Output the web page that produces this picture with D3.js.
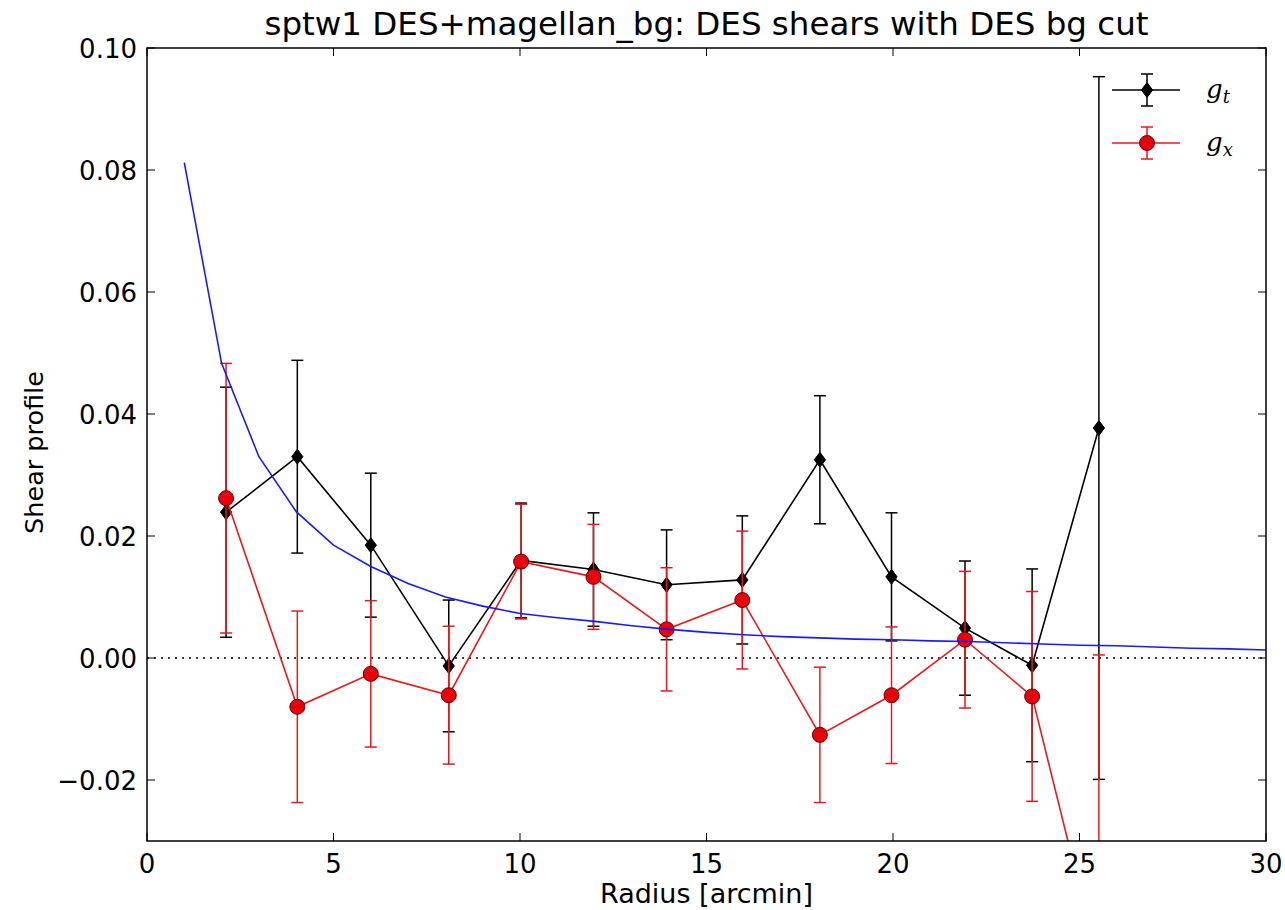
<!DOCTYPE html>
<html>
<head>
<meta charset="utf-8">
<script src="https://cdn.jsdelivr.net/npm/d3@7"></script>
<style>
  html, body { margin: 0; padding: 0; background: #fff; }
  svg { display: block; }
</style>
</head>
<body>
<svg id="chart" width="1285" height="910"></svg>
<script>
// ---------------- data ----------------
const titleText = "sptw1 DES+magellan_bg: DES shears with DES bg cut";
const xLabelText = "Radius [arcmin]";
const yLabelText = "Shear profile";

const radius = [2.12, 4.03, 6.0, 8.09, 10.03, 11.97, 13.93, 15.96, 18.04, 19.96, 21.93, 23.73, 25.52];
const gt     = [0.0239, 0.0330, 0.0185, -0.0013, 0.0160, 0.0145, 0.0120, 0.0128, 0.0325, 0.0133, 0.0049, -0.0012, 0.0377];
const gtErr  = [0.0205, 0.0158, 0.0118, 0.0108, 0.0094, 0.0093, 0.0090, 0.0105, 0.0105, 0.0105, 0.0110, 0.0158, 0.0576];
const gx     = [0.0262, -0.0080, -0.0026, -0.0061, 0.0158, 0.0133, 0.0047, 0.0095, -0.0126, -0.0061, 0.0030, -0.0063, -0.0505];
const gxErr  = [0.0221, 0.0157, 0.0120, 0.0113, 0.0094, 0.0086, 0.0101, 0.0113, 0.0111, 0.0112, 0.0112, 0.0172, 0.0510];

const modelR = [1, 2, 3, 4, 5, 6, 7, 8, 9, 10, 11, 12, 13, 14, 15, 16, 17, 18, 19, 20, 21, 22, 23, 24, 25, 26, 27, 28, 29, 30];
const modelG = [0.0812, 0.0483, 0.0330, 0.0240, 0.0185, 0.0150, 0.0122, 0.0100, 0.0085, 0.0073, 0.0066, 0.0060, 0.0053, 0.0047, 0.0042,
                0.0038, 0.0035, 0.0033, 0.0031, 0.0030, 0.0028, 0.0027, 0.0025, 0.0023, 0.0021, 0.0020, 0.0018, 0.0016, 0.0015, 0.0013];

const xTicks = [0, 5, 10, 15, 20, 25, 30];
const yTicks = [-0.02, 0.00, 0.02, 0.04, 0.06, 0.08, 0.10];

// ---------------- layout ----------------
const W = 1285, H = 910;
const m = { left: 147, right: 19, top: 48, bottom: 69 };
const iw = W - m.left - m.right, ih = H - m.top - m.bottom;

const svg = d3.select("#chart");
const x = d3.scaleLinear().domain([0, 30]).range([m.left, m.left + iw]);
const y = d3.scaleLinear().domain([-0.03, 0.10]).range([m.top + ih, m.top]);

const FONT = "DejaVu Sans, sans-serif";

svg.append("defs").append("clipPath").attr("id", "clip")
  .append("rect").attr("x", m.left).attr("y", m.top).attr("width", iw).attr("height", ih);

const plot = svg.append("g").attr("clip-path", "url(#clip)");

// zero dotted line
plot.append("line")
  .attr("x1", x(0)).attr("x2", x(30)).attr("y1", y(0)).attr("y2", y(0))
  .attr("stroke", "#000").attr("stroke-width", 1.3).attr("stroke-dasharray", "2,5");

function series(vals, errs, color, marker) {
  const g = plot.append("g");
  const pts = radius.map((r, i) => ({ r, v: vals[i], e: errs[i] }));
  pts.forEach(p => {
    g.append("line").attr("x1", x(p.r)).attr("x2", x(p.r))
      .attr("y1", y(p.v - p.e)).attr("y2", y(p.v + p.e))
      .attr("stroke", color).attr("stroke-width", 1.5);
    [p.v - p.e, p.v + p.e].forEach(c => {
      g.append("line").attr("x1", x(p.r) - 6).attr("x2", x(p.r) + 6)
        .attr("y1", y(c)).attr("y2", y(c))
        .attr("stroke", color).attr("stroke-width", 1.5);
    });
  });
  g.append("path").datum(pts)
    .attr("d", d3.line().x(d => x(d.r)).y(d => y(d.v)))
    .attr("fill", "none").attr("stroke", color).attr("stroke-width", 1.6);
  pts.forEach(p => {
    if (marker === "diamond") {
      const cx = x(p.r), cy = y(p.v), s = 7.5;
      g.append("path")
        .attr("d", `M${cx},${cy - s}L${cx + s * 0.75},${cy}L${cx},${cy + s}L${cx - s * 0.75},${cy}Z`)
        .attr("fill", "#000").attr("stroke", "#000").attr("stroke-width", 1);
    } else {
      g.append("circle").attr("cx", x(p.r)).attr("cy", y(p.v)).attr("r", 7.5)
        .attr("fill", "#e8000b").attr("stroke", "#600").attr("stroke-width", 1);
    }
  });
}

series(gt, gtErr, "#000", "diamond");
series(gx, gxErr, "#e8191e", "circle");

// model curve
plot.append("path").datum(modelR.map((r, i) => [r, modelG[i]]))
  .attr("d", d3.line().x(d => x(d[0])).y(d => y(d[1])))
  .attr("fill", "none").attr("stroke", "#1a1aff").attr("stroke-width", 1.6);

// ---------------- axes ----------------
const axG = svg.append("g");
xTicks.forEach(t => {
  axG.append("line").attr("x1", x(t)).attr("x2", x(t)).attr("y1", m.top + ih).attr("y2", m.top + ih - 8)
    .attr("stroke", "#000").attr("stroke-width", 1);
  axG.append("line").attr("x1", x(t)).attr("x2", x(t)).attr("y1", m.top).attr("y2", m.top + 8)
    .attr("stroke", "#000").attr("stroke-width", 1);
  axG.append("text").attr("x", x(t)).attr("y", m.top + ih + 32)
    .attr("text-anchor", "middle").attr("font-family", FONT).attr("font-size", 26)
    .text(String(t));
});
const yFmt = d3.format(".2f");
yTicks.forEach(t => {
  axG.append("line").attr("x1", m.left).attr("x2", m.left + 8).attr("y1", y(t)).attr("y2", y(t))
    .attr("stroke", "#000").attr("stroke-width", 1);
  axG.append("line").attr("x1", m.left + iw).attr("x2", m.left + iw - 8).attr("y1", y(t)).attr("y2", y(t))
    .attr("stroke", "#000").attr("stroke-width", 1);
  axG.append("text").attr("x", m.left - 10).attr("y", y(t) + 9.5)
    .attr("text-anchor", "end").attr("font-family", FONT).attr("font-size", 26)
    .text(yFmt(t).replace("-", "\u2212"));
});
axG.append("rect").attr("x", m.left).attr("y", m.top).attr("width", iw).attr("height", ih)
  .attr("fill", "none").attr("stroke", "#000").attr("stroke-width", 1.5);

// title and labels
svg.append("text").attr("x", m.left + iw / 2).attr("y", 35)
  .attr("text-anchor", "middle").attr("font-family", FONT).attr("font-size", 32.5)
  .text(titleText);
svg.append("text").attr("x", m.left + iw / 2).attr("y", 903)
  .attr("text-anchor", "middle").attr("font-family", FONT).attr("font-size", 27)
  .text(xLabelText);
svg.append("text").attr("transform", `translate(43,${m.top + ih / 2 + 8}) rotate(-90)`)
  .attr("text-anchor", "middle").attr("font-family", FONT).attr("font-size", 25.5)
  .text(yLabelText);

// ---------------- legend ----------------
const leg = svg.append("g");
const legItems = [
  { color: "#000", marker: "diamond", yPos: 90, label: "t" },
  { color: "#e8191e", marker: "circle", yPos: 143, label: "x" }
];
legItems.forEach(it => {
  leg.append("line").attr("x1", 1112).attr("x2", 1180).attr("y1", it.yPos).attr("y2", it.yPos)
    .attr("stroke", it.color).attr("stroke-width", 1.6);
  leg.append("line").attr("x1", 1147).attr("x2", 1147).attr("y1", it.yPos - 16).attr("y2", it.yPos + 16)
    .attr("stroke", it.color).attr("stroke-width", 1.5);
  [it.yPos - 16, it.yPos + 16].forEach(c => leg.append("line")
    .attr("x1", 1141).attr("x2", 1153).attr("y1", c).attr("y2", c)
    .attr("stroke", it.color).attr("stroke-width", 1.5));
  if (it.marker === "diamond") {
    const cx = 1147, cy = it.yPos, s = 7.5;
    leg.append("path").attr("d", `M${cx},${cy - s}L${cx + s * 0.75},${cy}L${cx},${cy + s}L${cx - s * 0.75},${cy}Z`)
      .attr("fill", "#000").attr("stroke", "#000");
  } else {
    leg.append("circle").attr("cx", 1147).attr("cy", it.yPos).attr("r", 7.5)
      .attr("fill", "#e8000b").attr("stroke", "#600");
  }
  const t = leg.append("text").attr("x", 1206).attr("y", it.yPos + 8)
    .attr("font-family", "DejaVu Serif, serif").attr("font-style", "italic").attr("font-size", 26);
  t.append("tspan").text("g");
  t.append("tspan").attr("dy", 5).attr("font-size", 18).text(it.label);
});
</script>
</body>
</html>
